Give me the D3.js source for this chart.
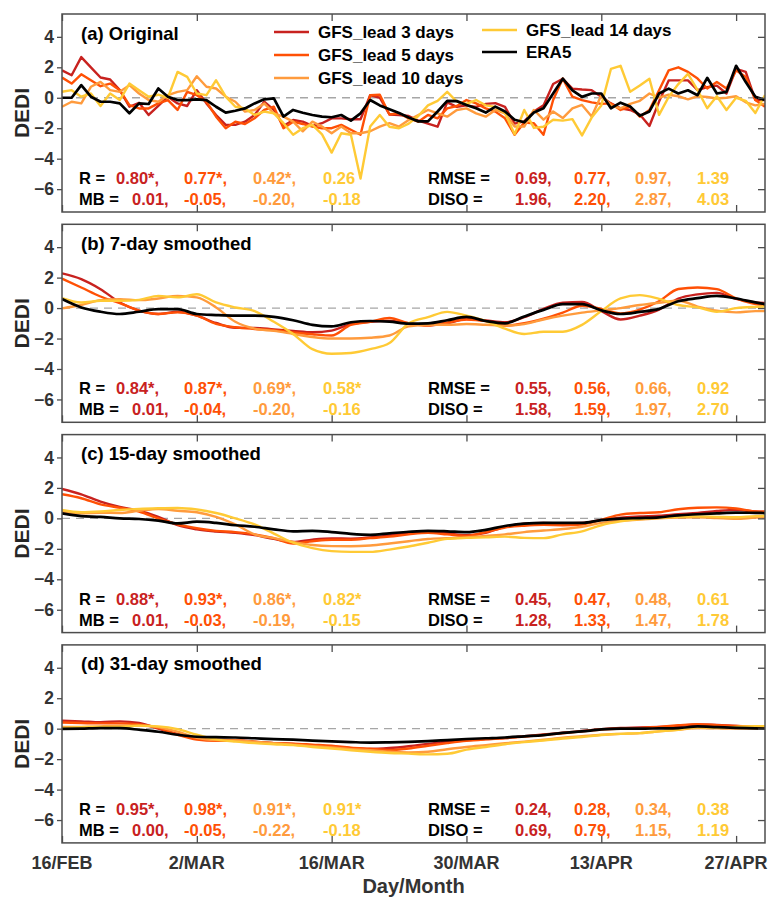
<!DOCTYPE html>
<html>
<head>
<meta charset="utf-8">
<script src="https://cdn.jsdelivr.net/npm/d3@7"></script>
<style>
  body { margin: 0; background: #fff; }
  svg text { font-family: "Liberation Sans", Arial, Helvetica, sans-serif; font-weight: bold; }
</style>
</head>
<body>
<svg id="chart" width="771" height="898"></svg>
<script>
// day index 0 = 16 Feb, 73 = 30 Apr
const days = d3.range(74);
const smoothDays = [0, 2, 4, 6, 8, 10, 12, 14, 16, 18, 20, 22, 24, 26, 28, 30, 32, 34, 36,
    38, 40, 42, 44, 46, 48, 50, 52, 54, 56, 58, 60, 62, 64, 66, 68, 70, 72, 73];

const tickDays = [0, 14, 28, 42, 56, 70];
const tickLabels = ["16/FEB", "2/MAR", "16/MAR", "30/MAR", "13/APR", "27/APR"];
const yTicks = [-6, -4, -2, 0, 2, 4];

const seriesNames = ["GFS_lead 3 days", "GFS_lead 5 days", "GFS_lead 10 days", "GFS_lead 14 days", "ERA5"];
const seriesColors = ["#c8221f", "#ff5005", "#ff9b3d", "#ffca35", "#000000"];

// (a) original daily values
const origLead3 = [1.8, 1.48, 2.67, 2.0, 1.33, 1.2, 0.5, -0.59, -0.33, -1.13, -0.54, 0.07, -0.37, -0.54, 0.5, -0.37,
    -1.13, -1.78, -1.78, -1.57, -1.13, -0.26, -0.8, -1.85, -1.46, -1.57, -1.85, -1.67, -1.35, -1.35, -1.41, -1.41, 0.17,
    0.0, -1.1, -1.13, -1.2, -1.5, -1.7, -1.9, -0.3, -0.6, -0.5, -0.6, -0.4, -0.35, -0.6, -1.7, -1.55, -0.9, -0.5,
    0.9, 1.25, 0.6, 0.54, 0.5, 0.07, -0.37, -0.7, -0.8, -1.1, -1.85, -0.25, 1.14, 1.14, 1.14, 0.5, 0.7, 0.8, 0.28,
    1.9, 1.7, -0.15, -0.15];
const origLead5 = [1.33, 0.93, 1.54, 1.15, 0.76, 0.93, 0.5, -0.48, -0.7, -0.7, -0.37, -0.15, -0.8, 0.39, 0.17, -0.26,
    -1.24, -2.0, -1.57, -1.72, -1.35, -0.8, -0.59, -2.0, -1.57, -1.72, -1.89, -2.0, -2.0, -1.78, -2.1, -2.43, 0.17,
    0.2, -1.1, -1.02, -1.35, -1.57, -1.13, -1.35, -0.7, -0.54, -0.15, -0.37, -0.7, -0.91, -1.35, -2.43, -1.63, -1.67,
    -2.43, -0.15, 1.26, 0.07, -0.15, -0.3, -0.4, -0.37, -0.8, -0.59, -1.24, -0.8, 0.5, 1.8, 2.0, 1.7, 1.26, 0.61,
    1.04, 0.61, 1.8, 1.37, -0.15, -0.59];
const origLead10 = [-0.59, -0.26, -0.37, 0.72, 1.04, 0.5, 0.39, 0.83, 0.28, -0.15, -0.26, 0.17, 0.39, 0.5, 1.41, 0.72,
    0.61, 0.07, -0.26, -0.91, -0.8, -0.37, -1.02, -1.24, -1.57, -2.2, -1.57, -1.89, -2.33, -1.89, -2.33, -2.33, -2.2,
    -1.9, -1.67, -1.89, -1.46, -1.13, -0.8, -1.02, -1.24, -0.8, -0.7, -1.02, -1.24, -0.8, -1.02, -1.89, -1.89, -0.8,
    -1.44, -0.9, -1.33, -0.7, -0.47, -1.23, 0.17, -0.5, -0.69, -0.4, -0.2, 0.28, 0.0, 0.2, 0.1, -0.1, 0.1, 0.05,
    -0.05, 0.0, 0.1, -0.3, -0.5, -0.4];
const origLead14 = [0.39, 0.5, 0.07, 0.28, -0.54, 0.28, -0.15, 0.93, 0.5, 0.07, 0.2, 0.0, 1.7, 1.37, 0.28, 0.17,
    1.15, 0.07, -0.59, -0.7, -1.13, -0.91, -1.02, -1.67, -2.43, -2.0, -1.78, -2.4, -3.6, -2.33, -2.43, -5.3, -1.89,
    -1.13, -1.9, -2.0, -1.7, -1.2, -0.5, -0.2, 0.39, -0.25, -0.4, -0.15, -0.5, -0.6, -1.0, -2.4, -0.8, -1.98, -1.9,
    -1.44, -1.5, -1.4, -2.47, -1.3, -0.5, 1.89, 2.1, 0.39, 0.8, 1.25, -1.12, 0.06, 0.9, 1.57, 0.5, -0.69, 0.1, -0.8,
    0.0, -0.2, -1.0, 0.17];
const origERA5 = [0.0, 0.0, 0.83, 0.07, -0.26, -0.26, -0.37, -1.02, -0.37, -0.41, 0.61, 0.07, -0.15, -0.15, -0.1, -0.15,
    -0.59, -0.98, -0.85, -0.7, -0.37, -0.1, -0.04, -1.24, -0.8, -0.98, -1.13, -1.24, -1.28, -1.13, -1.5, -1.02, -0.15,
    -0.5, -0.75, -1.0, -1.3, -1.55, -1.55, -0.9, -0.2, -0.22, -0.47, -0.69, -0.97, -0.58, -0.9, -1.44, -1.61, -0.97,
    -0.69, 0.28, 1.25, 0.49, 0.06, 0.28, 0.28, -0.69, -0.32, -0.58, -1.18, -0.9, 0.28, 0.6, 0.28, 0.49, 0.17, 1.31,
    0.28, 0.39, 2.1, 1.03, 0.06, -0.15];

// (b) 7-day smoothed, read every second day
const sm7Lead3 = [2.28, 1.9, 1.24, 0.37, -0.17, -0.39, -0.24, -0.5, -0.98, -1.3, -1.3, -1.4, -1.5, -1.59, -1.48, -1.05,
    -0.9, -0.84, -1.0, -1.12, -1.0, -0.72, -0.82, -0.93, -0.6, -0.05, 0.35, 0.4, -0.2, -0.75, -0.5, -0.1, 0.62, 0.9,
    1.0, 0.6, 0.37, 0.33];
const sm7Lead5 = [1.93, 1.35, 0.76, 0.33, -0.17, -0.39, -0.28, -0.5, -1.04, -1.26, -1.37, -1.45, -1.6, -1.72, -1.8, -1.1,
    -0.9, -0.65, -1.0, -1.15, -0.95, -0.75, -0.85, -1.15, -1.0, -0.7, -0.3, 0.15, -0.05, -0.35, -0.1, 0.45, 1.25, 1.35,
    1.24, 0.63, 0.26, 0.2];
const sm7Lead10 = [-0.02, 0.2, 0.52, 0.59, 0.52, 0.63, 0.8, 0.7, 0.04, -0.9, -1.35, -1.5, -1.7, -1.9, -2.0, -2.0,
    -1.95, -1.8, -1.2, -1.1, -1.1, -1.05, -1.1, -1.15, -1.05, -0.75, -0.5, -0.3, -0.15, 0.0, 0.2, 0.35, 0.48, 0.1,
    -0.17, -0.28, -0.2, -0.2];
const sm7Lead14 = [0.65, 0.37, 0.48, 0.48, 0.54, 0.8, 0.7, 0.91, 0.37, 0.04, -0.2, -0.9, -1.7, -2.7, -3.0, -2.95,
    -2.7, -2.3, -1.0, -0.6, -0.25, -0.5, -0.85, -1.35, -1.7, -1.55, -1.55, -1.1, -0.2, 0.63, 0.85, 0.6, 0.2, 0.05,
    -0.24, 0.0, 0.08, 0.1];
const sm7ERA5 = [0.59, 0.04, -0.24, -0.39, -0.24, -0.07, -0.07, -0.39, -0.46, -0.5, -0.5, -0.58, -0.8, -1.1, -1.2, -0.93,
    -0.85, -0.89, -1.02, -1.0, -0.8, -0.58, -0.85, -1.0, -0.55, -0.12, 0.26, 0.26, -0.15, -0.39, -0.25, -0.05, 0.45,
    0.65, 0.8, 0.63, 0.37, 0.26];

// (c) 15-day smoothed
const sm15Lead3 = [1.93, 1.58, 1.1, 0.75, 0.5, 0.1, -0.45, -0.72, -0.86, -0.95, -1.1, -1.35, -1.55, -1.4, -1.32, -1.33,
    -1.25, -1.12, -0.95, -0.88, -0.98, -1.1, -0.95, -0.55, -0.35, -0.3, -0.32, -0.3, -0.1, 0.05, 0.12, 0.17, 0.27,
    0.35, 0.48, 0.56, 0.45, 0.43];
const sm15Lead5 = [1.58, 1.32, 0.92, 0.7, 0.45, 0.0, -0.4, -0.65, -0.82, -0.9, -1.05, -1.3, -1.65, -1.5, -1.4, -1.4,
    -1.3, -1.2, -1.05, -0.95, -1.05, -1.15, -0.9, -0.6, -0.48, -0.43, -0.45, -0.4, -0.1, 0.25, 0.35, 0.4, 0.6, 0.7,
    0.72, 0.65, 0.45, 0.43];
const sm15Lead10 = [0.44, 0.33, 0.37, 0.35, 0.5, 0.62, 0.5, 0.4, 0.1, -0.4, -1.05, -1.3, -1.55, -1.75, -1.82, -1.83,
    -1.78, -1.65, -1.5, -1.35, -1.3, -1.25, -1.15, -1.05, -0.9, -0.8, -0.7, -0.55, -0.3, -0.15, -0.08, 0.0, 0.05,
    0.07, 0.02, -0.03, 0.05, 0.07];
const sm15Lead14 = [0.55, 0.4, 0.45, 0.55, 0.62, 0.66, 0.68, 0.58, 0.35, 0.0, -0.4, -1.0, -1.6, -1.95, -2.15, -2.2,
    -2.2, -2.05, -1.85, -1.6, -1.35, -1.28, -1.25, -1.2, -1.28, -1.3, -1.05, -0.85, -0.45, -0.2, -0.05, 0.03, 0.1,
    0.13, 0.1, 0.07, 0.15, 0.17];
const sm15ERA5 = [0.33, 0.15, 0.1, 0.0, -0.04, -0.15, -0.33, -0.22, -0.3, -0.45, -0.55, -0.72, -0.85, -0.82, -0.9, -1.02,
    -1.08, -0.98, -0.88, -0.82, -0.85, -0.9, -0.75, -0.5, -0.35, -0.3, -0.3, -0.3, -0.12, -0.02, 0.02, 0.07, 0.2,
    0.27, 0.33, 0.38, 0.36, 0.35];

// (d) 31-day smoothed
const sm31Lead3 = [0.52, 0.48, 0.42, 0.48, 0.38, 0.0, -0.35, -0.65, -0.72, -0.75, -0.85, -0.95, -1.0, -1.1, -1.18, -1.28,
    -1.33, -1.27, -1.15, -1.0, -0.85, -0.75, -0.68, -0.62, -0.5, -0.38, -0.27, -0.15, -0.03, 0.05, 0.08, 0.12, 0.18,
    0.27, 0.24, 0.18, 0.08, 0.04];
const sm31Lead5 = [0.41, 0.37, 0.35, 0.35, 0.27, 0.05, -0.4, -0.72, -0.8, -0.78, -0.88, -0.95, -0.98, -1.05, -1.12, -1.25,
    -1.32, -1.4, -1.3, -1.12, -0.95, -0.8, -0.7, -0.62, -0.52, -0.42, -0.3, -0.18, -0.05, 0.0, 0.03, 0.12, 0.22, 0.3,
    0.22, 0.18, 0.12, 0.09];
const sm31Lead10 = [0.11, 0.12, 0.15, 0.2, 0.2, 0.1, -0.2, -0.6, -0.75, -0.78, -0.85, -0.95, -1.05, -1.15, -1.24, -1.35,
    -1.42, -1.52, -1.56, -1.52, -1.35, -1.2, -1.08, -0.96, -0.85, -0.73, -0.6, -0.5, -0.4, -0.34, -0.29, -0.18, -0.07,
    0.04, 0.02, 0.0, 0.0, 0.0];
const sm31Lead14 = [0.04, 0.1, 0.11, 0.12, 0.2, 0.15, -0.03, -0.4, -0.7, -0.85, -0.95, -1.02, -1.08, -1.2, -1.3, -1.42,
    -1.52, -1.6, -1.64, -1.69, -1.65, -1.38, -1.2, -1.02, -0.88, -0.78, -0.65, -0.55, -0.42, -0.34, -0.29, -0.18,
    -0.07, 0.09, 0.05, 0.12, 0.16, 0.16];
const sm31ERA5 = [-0.02, 0.0, 0.04, 0.03, -0.07, -0.2, -0.4, -0.53, -0.56, -0.58, -0.63, -0.68, -0.72, -0.78, -0.84, -0.88,
    -0.91, -0.9, -0.87, -0.82, -0.75, -0.68, -0.63, -0.58, -0.5, -0.42, -0.28, -0.18, -0.05, 0.0, 0.0, 0.02, 0.04,
    0.15, 0.1, 0.05, 0.02, 0.0];

// statistics printed in each panel: one row per panel, one entry per lead
const statR = [
    ["0.80*,", "0.77*,", "0.42*,", "0.26"],
    ["0.84*,", "0.87*,", "0.69*,", "0.58*"],
    ["0.88*,", "0.93*,", "0.86*,", "0.82*"],
    ["0.95*,", "0.98*,", "0.91*,", "0.91*"],
];
const statMB = [
    ["0.01,", "-0.05,", "-0.20,", "-0.18"],
    ["0.01,", "-0.04,", "-0.20,", "-0.16"],
    ["0.01,", "-0.03,", "-0.19,", "-0.15"],
    ["0.00,", "-0.05,", "-0.22,", "-0.18"],
];
const statRMSE = [
    ["0.69,", "0.77,", "0.97,", "1.39"],
    ["0.55,", "0.56,", "0.66,", "0.92"],
    ["0.45,", "0.47,", "0.48,", "0.61"],
    ["0.24,", "0.28,", "0.34,", "0.38"],
];
const statDISO = [
    ["1.96,", "2.20,", "2.87,", "4.03"],
    ["1.58,", "1.59,", "1.97,", "2.70"],
    ["1.28,", "1.33,", "1.47,", "1.78"],
    ["0.69,", "0.79,", "1.15,", "1.19"],
];

const panelTitles = ["(a) Original", "(b) 7-day smoothed", "(c) 15-day smoothed", "(d) 31-day smoothed"];
const panelDays = [days, smoothDays, smoothDays, smoothDays];
const panelSeries = [
    [origLead3, origLead5, origLead10, origLead14, origERA5],
    [sm7Lead3, sm7Lead5, sm7Lead10, sm7Lead14, sm7ERA5],
    [sm15Lead3, sm15Lead5, sm15Lead10, sm15Lead14, sm15ERA5],
    [sm31Lead3, sm31Lead5, sm31Lead10, sm31Lead14, sm31ERA5],
];

const svg = d3.select("#chart");
svg.append("rect").attr("width", 771).attr("height", 898).attr("fill", "#fff");

const left = 62, right = 765;
const panelH = 198, panelStep = 210.3, firstTop = 14;
const axisColor = "#4d4d4d";
const labelColor = "#333";

const x = d3.scaleLinear().domain([0, 73]).range([left, right]);

panelTitles.forEach((title, i) => {
    const top = firstTop + i * panelStep;
    const y = d3.scaleLinear().domain([-7.5, 5.5]).range([top + panelH, top]);
    const g = svg.append("g");

    // clip
    const clipId = "clip" + i;
    svg.append("clipPath").attr("id", clipId)
        .append("rect").attr("x", left).attr("y", top).attr("width", right - left).attr("height", panelH);

    // zero line
    g.append("line")
        .attr("x1", left).attr("x2", right)
        .attr("y1", y(0)).attr("y2", y(0))
        .attr("stroke", "#a6a6a6").attr("stroke-width", 1.3)
        .attr("stroke-dasharray", "8,6");

    // series
    const line = d3.line()
        .x((d, k) => x(panelDays[i][k]))
        .y((d) => y(d));
    if (i > 0) line.curve(d3.curveMonotoneX);

    panelSeries[i].forEach((vals, s) => {
        g.append("path")
            .datum(vals)
            .attr("clip-path", `url(#${clipId})`)
            .attr("fill", "none")
            .attr("stroke", seriesColors[s])
            .attr("stroke-width", s === 4 ? 2.7 : 2.4)
            .attr("stroke-linejoin", "round")
            .attr("d", line);
    });

    // left axis, ticks outside
    const yAxis = g.append("g")
        .attr("transform", `translate(${left},0)`)
        .call(d3.axisLeft(y).tickValues(yTicks).tickSize(5).tickPadding(3));
    yAxis.select(".domain").remove();
    yAxis.selectAll("line").attr("stroke", axisColor).attr("stroke-width", 1.3);
    yAxis.selectAll("text")
        .attr("fill", labelColor)
        .style("font-size", "17.5px")
        .style("font-weight", "bold");

    // right axis, ticks inside
    const yRight = g.append("g")
        .attr("transform", `translate(${right},0)`)
        .call(d3.axisLeft(y).tickValues(yTicks).tickSize(7).tickFormat(""));
    yRight.select(".domain").remove();
    yRight.selectAll("line").attr("stroke", axisColor).attr("stroke-width", 1.3);

    // top and bottom ticks, inside
    const xTop = g.append("g")
        .attr("transform", `translate(0,${top})`)
        .call(d3.axisBottom(x).tickValues(tickDays).tickSize(7).tickFormat(""));
    xTop.select(".domain").remove();
    xTop.selectAll("line").attr("stroke", axisColor).attr("stroke-width", 1.3);

    const xBottom = g.append("g")
        .attr("transform", `translate(0,${top + panelH})`)
        .call(d3.axisTop(x).tickValues(tickDays).tickSize(7).tickFormat(""));
    xBottom.select(".domain").remove();
    xBottom.selectAll("line").attr("stroke", axisColor).attr("stroke-width", 1.3);

    // frame
    g.append("rect")
        .attr("x", left).attr("y", top)
        .attr("width", right - left).attr("height", panelH)
        .attr("fill", "none").attr("stroke", axisColor).attr("stroke-width", 1.5);

    // y label
    g.append("text")
        .attr("transform", `translate(21,${top + panelH / 2}) rotate(-90)`)
        .attr("text-anchor", "middle")
        .attr("dominant-baseline", "central")
        .attr("fill", "#262626")
        .style("font-size", "21px")
        .text("DEDI");

    // panel title
    g.append("text")
        .attr("x", 81).attr("y", top + 19)
        .attr("dominant-baseline", "central")
        .attr("fill", "#000")
        .style("font-size", "18.5px")
        .text(title);

    // statistics
    const rowR = top + 164, rowMB = top + 185;
    const statFont = "16.5px";
    const addText = (tx, ty, str, color) => g.append("text")
        .attr("x", tx).attr("y", ty)
        .attr("dominant-baseline", "central")
        .attr("fill", color)
        .style("font-size", statFont)
        .text(str);

    const colX = [116, 184, 253, 323];
    const rightColX = [515, 574, 635, 697];
    addText(79, rowR, "R =", "#000");
    addText(79, rowMB, "MB =", "#000");
    addText(428, rowR, "RMSE =", "#000");
    addText(428, rowMB, "DISO =", "#000");
    for (let s = 0; s < 4; s++) {
        addText(colX[s], rowR, statR[i][s], seriesColors[s]);
        addText(s === 0 ? 132 : colX[s], rowMB, statMB[i][s], seriesColors[s]);
        addText(rightColX[s], rowR, statRMSE[i][s], seriesColors[s]);
        addText(rightColX[s], rowMB, statDISO[i][s], seriesColors[s]);
    }

    // x tick labels on the last panel only
    if (i === panelTitles.length - 1) {
        g.selectAll(".xlab")
            .data(tickDays)
            .enter()
            .append("text")
            .attr("x", (d) => x(d))
            .attr("y", top + panelH + 20)
            .attr("text-anchor", "middle")
            .attr("dominant-baseline", "central")
            .attr("fill", labelColor)
            .style("font-size", "18px")
            .text((d, k) => tickLabels[k]);

        g.append("text")
            .attr("x", (left + right) / 2)
            .attr("y", top + panelH + 43)
            .attr("text-anchor", "middle")
            .attr("dominant-baseline", "central")
            .attr("fill", labelColor)
            .style("font-size", "20px")
            .text("Day/Month");
    }

    // legend in the first panel
    if (i === 0) {
        const legendPos = [
            { x: 274, y: top + 18 },
            { x: 274, y: top + 41 },
            { x: 274, y: top + 64 },
            { x: 482, y: top + 16 },
            { x: 482, y: top + 38 },
        ];
        seriesNames.forEach((name, s) => {
            const p = legendPos[s];
            g.append("line")
                .attr("x1", p.x).attr("x2", p.x + 35)
                .attr("y1", p.y).attr("y2", p.y)
                .attr("stroke", seriesColors[s])
                .attr("stroke-width", s === 4 ? 2.7 : 2.4);
            g.append("text")
                .attr("x", p.x + 44).attr("y", p.y)
                .attr("dominant-baseline", "central")
                .attr("fill", "#000")
                .style("font-size", "17px")
                .text(name);
        });
    }
});
</script>
</body>
</html>
